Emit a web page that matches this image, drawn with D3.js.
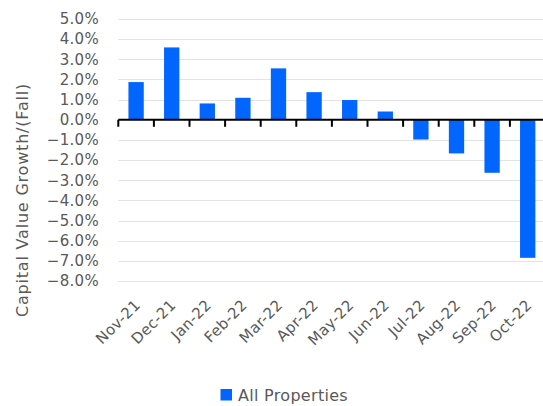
<!DOCTYPE html>
<html>
<head>
<meta charset="utf-8">
<script src="https://cdn.jsdelivr.net/npm/d3@7"></script>
<style>
  html, body { margin: 0; padding: 0; background: #fff; }
  svg { display: block; }
  text { font-family: "DejaVu Sans", sans-serif; fill: #595959; }
</style>
</head>
<body>
<svg id="chart" width="543" height="406"></svg>
<script>
// Monthly capital value growth, all properties (%)
const months = ["Nov-21", "Dec-21", "Jan-22", "Feb-22", "Mar-22", "Apr-22",
                "May-22", "Jun-22", "Jul-22", "Aug-22", "Sep-22", "Oct-22"];
const growth = [1.87, 3.59, 0.81, 1.09, 2.55, 1.37, 0.98, 0.41, -0.98, -1.67, -2.63, -6.85];
const yTicks = [5, 4, 3, 2, 1, 0, -1, -2, -3, -4, -5, -6, -7, -8];
const seriesName = "All Properties";
const yTitle = "Capital Value Growth/(Fall)";

const svg = d3.select("#chart");
const plot = { left: 118.3, right: 545.5, top: 19, bottom: 281 };

const y = d3.scaleLinear().domain([-8, 5]).range([plot.bottom, plot.top]);

// category slots (tick marks sit on slot boundaries)
const slots = d3.scaleBand().domain(months).range([plot.left, plot.right]).padding(0);
// bars inside each slot
const x = d3.scaleBand().domain(months).range([plot.left, plot.right])
  .paddingInner(0.57).paddingOuter(0.285);

// horizontal gridlines
svg.append("g")
  .selectAll("line")
  .data(yTicks.filter(d => d !== 0))
  .join("line")
  .attr("x1", plot.left).attr("x2", plot.right)
  .attr("y1", d => Math.round(y(d)) + 0.5).attr("y2", d => Math.round(y(d)) + 0.5)
  .attr("stroke", "#e3e3e3").attr("stroke-width", 1);

// y axis labels
const yAxis = d3.axisLeft(y).tickValues(yTicks).tickSize(0).tickPadding(0)
  .tickFormat(d => d3.format(".1f")(d) + "%");
svg.append("g")
  .attr("transform", `translate(99,0)`)
  .call(yAxis)
  .call(g => g.select(".domain").remove())
  .call(g => g.selectAll("text")
    .attr("font-family", "DejaVu Sans, sans-serif")
    .attr("font-size", 15).attr("letter-spacing", 0.3).attr("fill", "#595959"));

// bars
svg.append("g")
  .selectAll("rect")
  .data(months.map((m, i) => ({ m, v: growth[i] })))
  .join("rect")
  .attr("x", d => x(d.m))
  .attr("width", x.bandwidth())
  .attr("y", d => y(Math.max(0, d.v)))
  .attr("height", d => Math.abs(y(d.v) - y(0)))
  .attr("fill", "#0066ff");

// zero axis with boundary ticks
const xAxisG = svg.append("g");
xAxisG.append("line")
  .attr("x1", plot.left).attr("x2", plot.right)
  .attr("y1", y(0)).attr("y2", y(0))
  .attr("stroke", "#000").attr("stroke-width", 2);
xAxisG.selectAll("line.tick")
  .data(months)
  .join("line")
  .attr("class", "tick")
  .attr("x1", d => slots(d)).attr("x2", d => slots(d))
  .attr("y1", y(0)).attr("y2", y(0) + 7)
  .attr("stroke", "#000").attr("stroke-width", 2);

// rotated month labels
svg.append("g")
  .selectAll("text")
  .data(months)
  .join("text")
  .attr("transform", d => `translate(${slots(d) + slots.bandwidth() / 2 + 5},${plot.bottom + 25}) rotate(-45)`)
  .attr("text-anchor", "end")
  .attr("font-size", 15)
  .attr("letter-spacing", 0.3)
  .text(d => d);

// y axis title
svg.append("text")
  .attr("transform", `translate(28,200) rotate(-90)`)
  .attr("text-anchor", "middle")
  .attr("font-size", 16)
  .attr("letter-spacing", 0.8)
  .text(yTitle);

// legend
const legend = svg.append("g").attr("transform", "translate(220.5,389)");
legend.append("rect").attr("width", 11.5).attr("height", 11.5).attr("fill", "#0066ff");
legend.append("text").attr("x", 17.5).attr("y", 12).attr("font-size", 16)
  .attr("letter-spacing", 0.3).text(seriesName);
</script>
</body>
</html>
